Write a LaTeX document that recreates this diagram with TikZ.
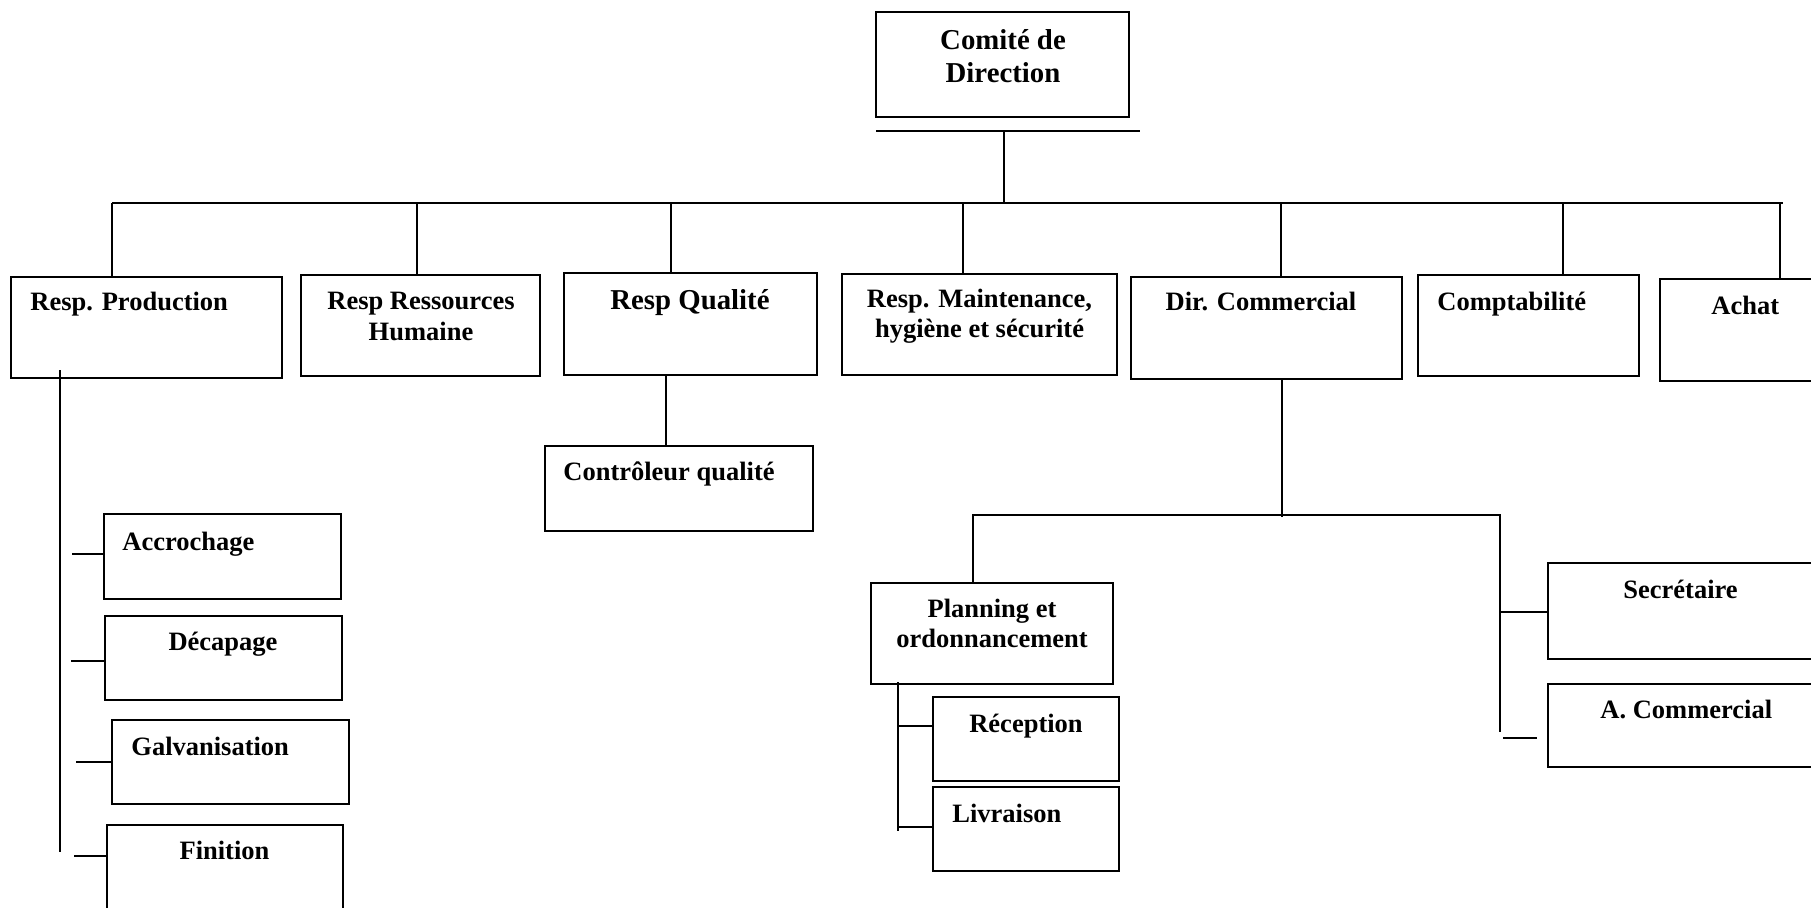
\documentclass[tikz,border=0pt]{standalone}
\usepackage{fontspec}
\setmainfont{Liberation Serif}
\usetikzlibrary{fit}
\newcommand\orgbox[5]{%
  \coordinate (#1-a) at (#2,#3);
  \coordinate (#1-b) at (#4,#5);
  \node[box, fit=(#1-a)(#1-b)] (#1) {};}
\begin{document}
\begin{tikzpicture}[x=0.5pt,y=-0.5pt,
  box/.style={draw, inner sep=0pt, line width=1pt},
  lbl/.style={font=\fontsize{13.25}{15}\selectfont\bfseries, inner sep=0pt},
  big/.style={font=\fontsize{14.4}{16}\selectfont\bfseries, inner sep=0pt},
  link/.style={draw, line width=1pt}]
\useasboundingbox (0,0) rectangle (1811,907);
\clip (0,0) rectangle (1811,907);

% ---------- boxes ----------
\orgbox{com}{876}{12}{1129}{117}
\orgbox{prod}{11}{277}{282}{378}
\orgbox{rh}{301}{275}{540}{376}
\orgbox{qual}{564}{273}{817}{375}
\orgbox{maint}{842}{274}{1117}{375}
\orgbox{dir}{1131}{277}{1402}{379}
\orgbox{compt}{1418}{275}{1639}{376}
\orgbox{achat}{1660}{279}{1840}{381}
\orgbox{ctrl}{545}{446}{813}{531}
\orgbox{accr}{104}{514}{341}{599}
\orgbox{deca}{105}{616}{342}{700}
\orgbox{galv}{112}{720}{349}{804}
\orgbox{fini}{107}{825}{343}{940}
\orgbox{plan}{871}{583}{1113}{684}
\orgbox{rece}{933}{697}{1119}{781}
\orgbox{livr}{933}{787}{1119}{871}
\orgbox{secr}{1548}{563}{1840}{659}
\orgbox{acom}{1548}{684}{1840}{767}

% ---------- texts ----------
\node[big, anchor=base] (tcom1) at (1003,49) {Comité de};
\node[big, anchor=base] (tcom2) at (1003,82) {Direction};
\node[lbl, anchor=base west] (tprod) at (30,310) {Resp. Production};
\node[lbl, anchor=base] (trh1) at (421,309) {Resp Ressources};
\node[lbl, anchor=base] (trh2) at (421,340) {Humaine};
\node[big, anchor=base] (tqual) at (690,309) {Resp Qualité};
\node[lbl, anchor=base] (tmt1) at (979.5,307) {Resp. Maintenance,};
\node[lbl, anchor=base] (tmt2) at (979.5,337) {hygiène et sécurité};
\node[lbl, anchor=base] (tdir) at (1261,310) {Dir. Commercial};
\node[lbl, anchor=base west] (tcompt) at (1437,310) {Comptabilité};
\node[lbl, anchor=base west] (tachat) at (1711,314) {Achat};
\node[lbl, anchor=base west] (tctrl) at (563,480) {Contrôleur qualité};
\node[lbl, anchor=base west] (taccr) at (122,550) {Accrochage};
\node[lbl, anchor=base] (tdeca) at (223,650) {Décapage};
\node[lbl, anchor=base west] (tgalv) at (131,755) {Galvanisation};
\node[lbl, anchor=base] (tfini) at (224.5,859) {Finition};
\node[lbl, anchor=base] (tplan1) at (992,617) {Planning et};
\node[lbl, anchor=base] (tplan2) at (992,647) {ordonnancement};
\node[lbl, anchor=base] (trece) at (1026,732) {Réception};
\node[lbl, anchor=base west] (tlivr) at (952,822) {Livraison};
\node[lbl, anchor=base west] (tsecr) at (1623,598) {Secrétaire};
\node[lbl, anchor=base west] (tacom) at (1600,718) {A. Commercial};

% ---------- connectors ----------
\coordinate (u0) at (876,131);
\coordinate (u1) at (1140,131);
\coordinate (uj) at (1004,131);
\coordinate (mj) at (1004,203);
\path[link] (u0) -- (u1);
\path[link] (uj) -- (mj);

\coordinate (m0) at (112,203);
\coordinate (m1) at (1783,203);
\path[link] (m0) -- (m1);

\coordinate (vrh) at (417,203);
\coordinate (vqual) at (671,203);
\coordinate (vmaint) at (963,203);
\coordinate (vdir) at (1281,203);
\coordinate (vcompt) at (1563,203);
\coordinate (vachat) at (1780,203);
\path[link] (m0) -- (m0 |- prod.north);
\path[link] (vrh) -- (vrh |- rh.north);
\path[link] (vqual) -- (vqual |- qual.north);
\path[link] (vmaint) -- (vmaint |- maint.north);
\path[link] (vdir) -- (vdir |- dir.north);
\path[link] (vcompt) -- (vcompt |- compt.north);
\path[link] (vachat) -- (vachat |- achat.north);

% quality
\coordinate (qv) at (666,375);
\path[link] (qv |- qual.south) -- (qv |- ctrl.north);

% production
\coordinate (pv0) at (60,370);
\coordinate (pv1) at (60,852);
\path[link] (pv0) -- (pv1);
\coordinate (sa) at (72,554);
\coordinate (sd) at (71,661);
\coordinate (sg) at (76,762);
\coordinate (sf) at (74,856);
\path[link] (sa) -- (sa -| accr.west);
\path[link] (sd) -- (sd -| deca.west);
\path[link] (sg) -- (sg -| galv.west);
\path[link] (sf) -- (sf -| fini.west);

% commercial
\coordinate (dv) at (1282,517);
\path[link] (dv |- dir.south) -- (dv);
\coordinate (hl) at (973,515);
\coordinate (hr) at (1500,515);
\coordinate (hb) at (1500,732);
\path[link] (hl |- plan.north) -- (hl) -- (hr) -- (hb);
\coordinate (ss) at (1500,612);
\path[link] (ss) -- (ss -| secr.west);
\coordinate (sc0) at (1503,738);
\coordinate (sc1) at (1537,738);
\path[link] (sc0) -- (sc1);

% planning
\coordinate (lv0) at (898,682);
\coordinate (lv1) at (898,831);
\path[link] (lv0) -- (lv1);
\coordinate (sr) at (898,726);
\coordinate (sl) at (898,827);
\path[link] (sr) -- (sr -| rece.west);
\path[link] (sl) -- (sl -| livr.west);
\end{tikzpicture}
\end{document}
